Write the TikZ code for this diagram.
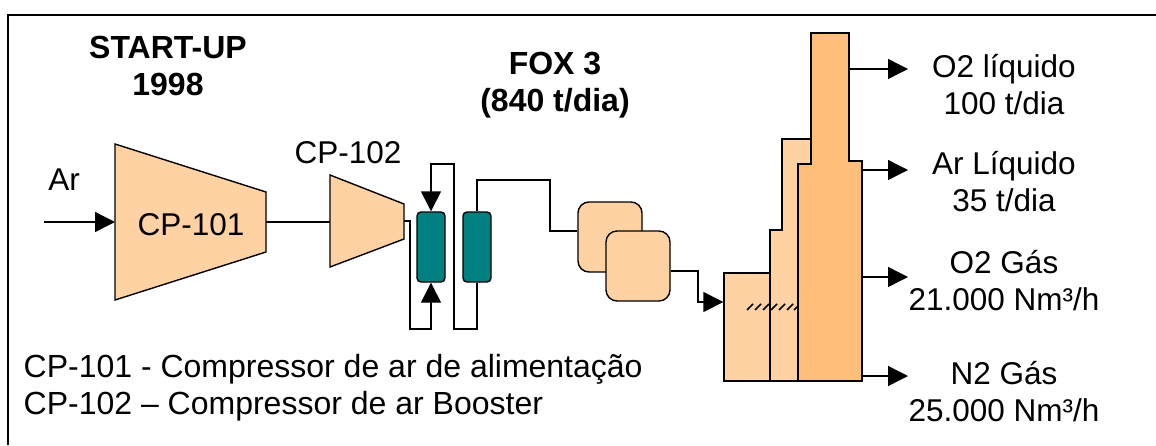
\documentclass[tikz,border=0pt]{standalone}
\usepackage{fontspec}
\setmainfont{Liberation Sans}
\usetikzlibrary{arrows.meta,positioning,calc}

\definecolor{peach}{HTML}{FFD2A3}
\definecolor{darkpeach}{HTML}{FFBF7A}
\definecolor{tealbox}{HTML}{008080}

\begin{document}
\begin{tikzpicture}[x=1pt, y=-1pt, line width=1.4pt, >={Triangle[length=20pt,width=20pt]},
    every node/.style={font=\fontsize{31.5}{37}\selectfont, align=center},
    titletext/.style={font=\fontsize{32}{37}\selectfont\bfseries},
    vessel/.style={draw, fill=peach},
    column/.style={draw, fill=tealbox, rounded corners=4pt, minimum width=28pt, minimum height=70pt, inner sep=0pt},
    drum/.style={draw, fill=peach, rounded corners=11pt, minimum width=64pt, minimum height=70pt, inner sep=0pt}]
    \useasboundingbox (0,0) rectangle (1156,445);
    \draw [line width=1.6pt] (8,445) -- (8,15) -- (1156,15);

    % compressors
    \draw [vessel] (115,144) -- (266,192) -- (266,252) -- (115,300) -- cycle;
    \draw [vessel] (330,175) -- (404,204) -- (404,239) -- (330,267) -- cycle;
    \node (cp101) at (191,225) {CP-101};
    \node (cp102) at (348,153) {CP-102};
    \node (air) at (64,180) {Ar};
    \coordinate (airin) at (44,222);
    \coordinate (cp101in) at (115,222);
    \coordinate (cp101out) at (266,222);
    \coordinate (cp102in) at (330,222);
    \coordinate (cp102out) at (404,221);

    % columns and drums
    \node [column] (colA) at (431,247) {};
    \node [column] (colB) at (477,247) {};
    \node [drum] (drumA) at (610,237) {};
    \node [drum] (drumB) at (638,266) {};

    % cold box
    \node [vessel, minimum width=46pt, minimum height=108pt, inner sep=0pt] (base) at (747,327) {};
    \draw [vessel] (770,381) -- (770,230) -- (782,230) -- (782,139) -- (811,139) -- (811,381) -- cycle;
    \foreach \hx in {750,758,766,774,782,790,797}
        \draw [line width=1.6pt] (\hx-3,310) -- (\hx+3,304);
    \draw [draw, fill=darkpeach] (798,381) -- (798,164) -- (811,164) -- (811,33) -- (849,33) -- (849,161) -- (862,161) -- (862,381) -- cycle;
    \coordinate (outA) at (849,69);
    \coordinate (outB) at (862,170);
    \coordinate (outC) at (862,277);
    \coordinate (outD) at (862,376);
    \coordinate (endA) at (908,69);
    \coordinate (endB) at (908,170);
    \coordinate (endC) at (908,277);
    \coordinate (endD) at (908,376);

    \draw [->] (airin) -- (cp101in);
    \draw (cp101out) -- (cp102in);
    \draw [->] (cp102out) -- (410,221) -- (410,329) -- (431,329) -- (colA.south);
    \draw [->] (colB.south) -- (477,329) -- (454,329) -- (454,164) -- (431,164) -- (colA.north);
    \draw (colB.north) -- (477,180) -- (550,180) -- (550,231) -- (drumA.west |- 0,231);
    \draw [->] (drumB.east |- 0,271) -- (698,271) -- (698,302) -- (base.west |- 0,302);
    \draw [->] (outA) -- (endA);
    \draw [->] (outB) -- (endB);
    \draw [->] (outC) -- (endC);
    \draw [->] (outD) -- (endD);

    % labels
    \node [titletext] (startup) at (168,66) {START-UP\\1998};
    \node [titletext] (fox) at (555,85) {FOX 3\\(840 t/dia)};
    \node (oxliq) at (1004,85) {O2 líquido\\100 t/dia};
    \node (arliq) at (1004,182) {Ar Líquido\\35 t/dia};
    \node (oxgas) at (1004,281) {O2 Gás\\21.000 Nm³/h};
    \node (nigas) at (1004,392) {N2 Gás\\25.000 Nm³/h};
    \node [anchor=west, align=left, inner sep=0pt, font=\fontsize{32}{37}\selectfont] (legend) at (23,388) {CP-101 - Compressor de ar de alimentação\\CP-102 – Compressor de ar Booster};
\end{tikzpicture}
\end{document}
